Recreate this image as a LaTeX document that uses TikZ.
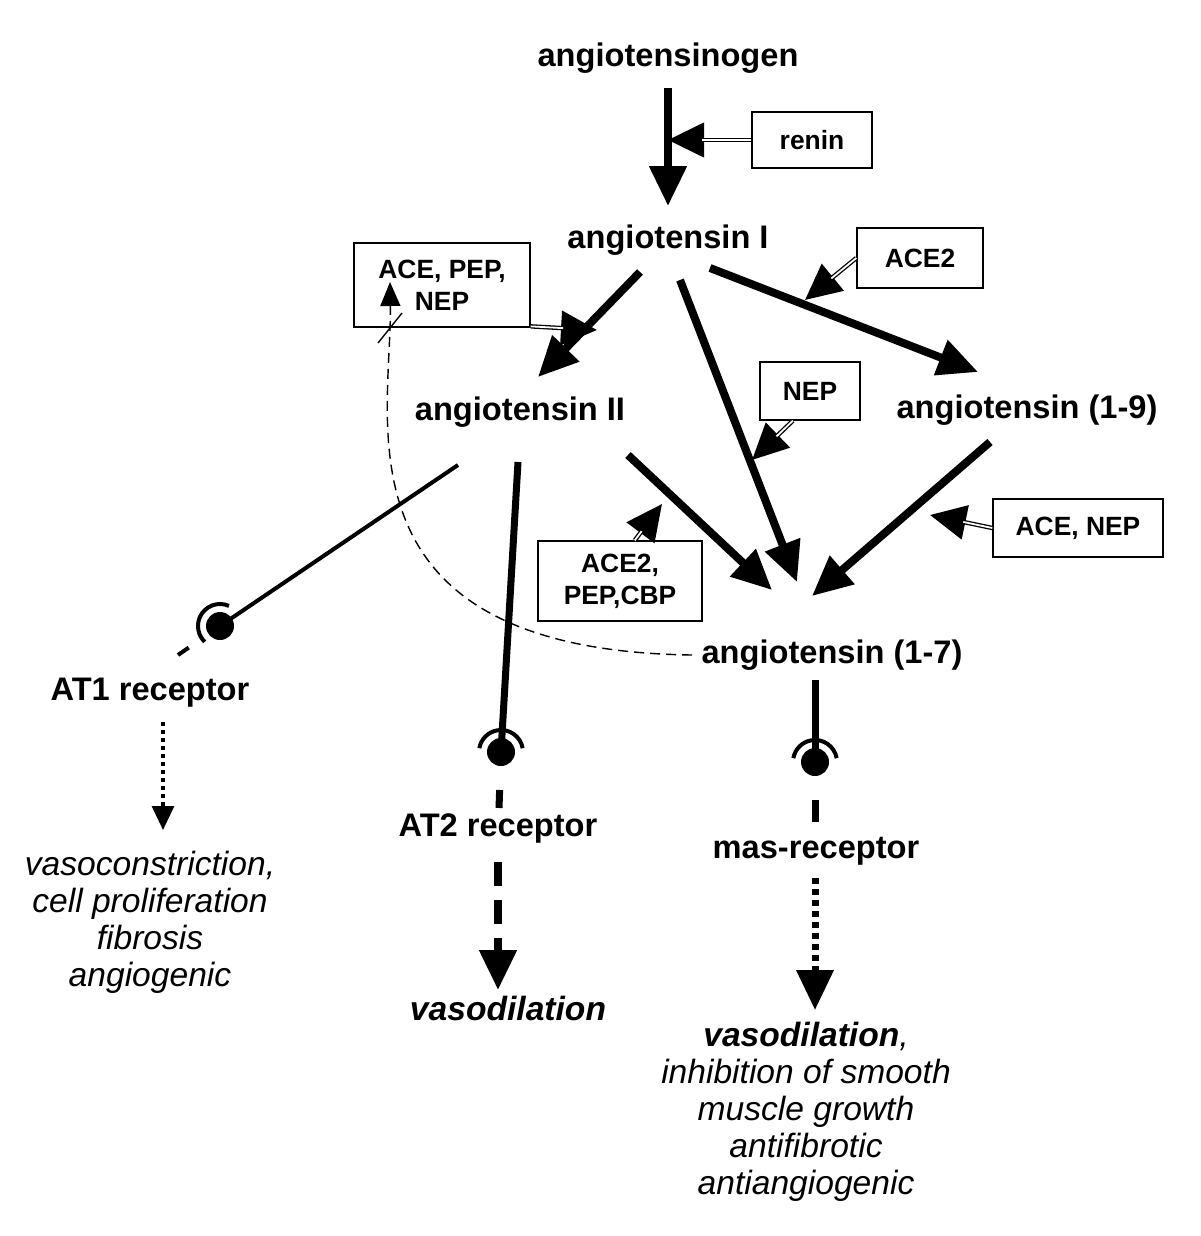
\documentclass[tikz,border=0pt]{standalone}
\usepackage{fontspec}
\setmainfont{Liberation Sans}
\usetikzlibrary{arrows.meta,calc}
\tikzset{
  mol/.style={font=\fontsize{16.3}{19}\selectfont\bfseries, align=center},
  eff/.style={font=\fontsize{16.8}{18.5}\selectfont\itshape, align=center},
  enz/.style={draw, line width=0.7pt, font=\fontsize{13.2}{16}\selectfont\bfseries, align=center, inner sep=2pt},
  conv/.style={line width=4pt, -{Triangle[length=20pt,width=18pt]}},
  bind/.style={line width=2pt},
  dbl/.style={line width=2.2pt, -{Triangle[length=18pt,width=17pt]}},
  hole/.style={white, line width=0.9pt, shorten >=17pt}
}
\newcommand{\enzarrow}[2]{\draw[dbl] (#1) -- (#2); \draw[hole] (#1) -- (#2);}
\newcommand{\rcpt}[2]{% position, direction of the cup
  \fill (#1) circle (7pt);
  \draw[line width=2pt] ($(#1)+(#2-80:11pt)$) arc[start angle=#2-80, end angle=#2+80, radius=11pt];}
\begin{document}
\begin{tikzpicture}[x=0.5pt,y=-0.5pt]
\useasboundingbox (0,0) rectangle (1200,1236);
% molecules
\node[mol] (agt) at (668,58) {angiotensinogen};
\node[mol] (ang1) at (668,240) {angiotensin I};
\node[mol] (ang2) at (520,412) {angiotensin II};
\node[mol] (a19) at (1027,410) {angiotensin (1-9)};
\node[mol] (a17) at (832,655) {angiotensin (1-7)};
\node[mol] (at1) at (150,693) {AT1 receptor};
\node[mol] (at2) at (498,828) {AT2 receptor};
\node[mol] (mas) at (816,851) {mas-receptor};
% enzymes
\node[enz, minimum width=60pt, minimum height=28pt] (renin) at (812,140) {renin};
\node[enz, minimum width=88pt, minimum height=42pt] (acepep) at (442,285) {ACE, PEP,\\NEP};
\node[enz, minimum width=63pt, minimum height=30pt] (ace2) at (920,258) {ACE2};
\node[enz, minimum width=50pt, minimum height=29pt] (nep) at (810,391) {NEP};
\node[enz, minimum width=85pt, minimum height=29pt] (acenep) at (1078,528) {ACE, NEP};
\node[enz, minimum width=82pt, minimum height=40pt] (acecbp) at (620,581) {ACE2,\\PEP,CBP};
% effects
\node[eff] (eff1) at (150,922) {vasoconstriction,\\cell proliferation\\fibrosis\\angiogenic};
\node[eff] (eff2) at (508,1008) {\bfseries\itshape vasodilation};
\node[eff] (eff3) at (806,1112) {\textbf{vasodilation},\\inhibition of smooth\\muscle growth\\antifibrotic\\antiangiogenic};
% conversions
\coordinate (s0) at (668,88); \coordinate (t0) at (668,206);
\draw[conv] (s0) -- (t0);
\coordinate (s1) at (640,272); \coordinate (t1) at (538,377);
\draw[conv] (s1) -- (t1);
\coordinate (s2) at (710,268); \coordinate (t2) at (978,372);
\draw[conv] (s2) -- (t2);
\coordinate (s3) at (680,280); \coordinate (t3) at (797,582);
\draw[conv] (s3) -- (t3);
\coordinate (s4) at (628,455); \coordinate (t4) at (772,590);
\draw[conv] (s4) -- (t4);
\coordinate (s5) at (990,442); \coordinate (t5) at (812,596);
\draw[conv] (s5) -- (t5);
% enzyme actions
\coordinate (e0) at (668,140); \enzarrow{renin.west}{e0}
\coordinate (e1) at (597,330); \enzarrow{acepep.-25}{e1}
\coordinate (e2) at (805,300); \enzarrow{ace2.west}{e2}
\coordinate (e3) at (752,460); \enzarrow{nep.-120}{e3}
\coordinate (e4) at (930,515); \enzarrow{acenep.west}{e4}
\coordinate (e5) at (662,504); \enzarrow{acecbp.70}{e5}
% receptors
\coordinate (b1) at (458,465); \coordinate (r1) at (220,626); \coordinate (c1) at (178,655);
\draw[bind] (b1) -- (r1);
\draw[bind] ($(r1)!19pt!(c1)$) -- (c1);
\rcpt{r1}{146}
\coordinate (b2) at (518,462); \coordinate (r2) at (501,752); \coordinate (c2) at (499,808);
\draw[line width=3.5pt] (b2) -- (r2);
\draw[line width=3.5pt] ($(r2)!19pt!(c2)$) -- (c2);
\rcpt{r2}{90}
\coordinate (b3) at (815,680); \coordinate (r3) at (815,762); \coordinate (c3) at (815,822);
\draw[line width=3.5pt] (b3) -- (r3);
\draw[line width=3.5pt] ($(r3)!19pt!(c3)$) -- (c3);
\rcpt{r3}{90}
% feedback
\coordinate (f0) at (692,655); \coordinate (f1) at (390,282);
\draw[dashed, line width=0.7pt, dash pattern=on 5pt off 3pt, -{Triangle[length=12pt,width=10pt]}]
  (f0) .. controls (330,650) and (392,420) .. (f1);
\draw[line width=0.7pt] (378,343) -- (402,313);
% signalling
\coordinate (d1) at (163,722); \coordinate (g1) at (163,830);
\draw[line width=1.6pt, dash pattern=on 2pt off 2pt, -{Triangle[length=12pt,width=11pt]}] (d1) -- (g1);
\coordinate (d2) at (498,862); \coordinate (g2) at (498,990);
\draw[line width=4pt, dash pattern=on 12pt off 7pt, -{Triangle[length=20pt,width=18pt]}] (d2) -- (g2);
\coordinate (d3) at (815,878); \coordinate (g3) at (815,1010);
\draw[line width=3.5pt, dash pattern=on 3pt off 2.5pt, -{Triangle[length=20pt,width=18pt]}] (d3) -- (g3);
\end{tikzpicture}
\end{document}
